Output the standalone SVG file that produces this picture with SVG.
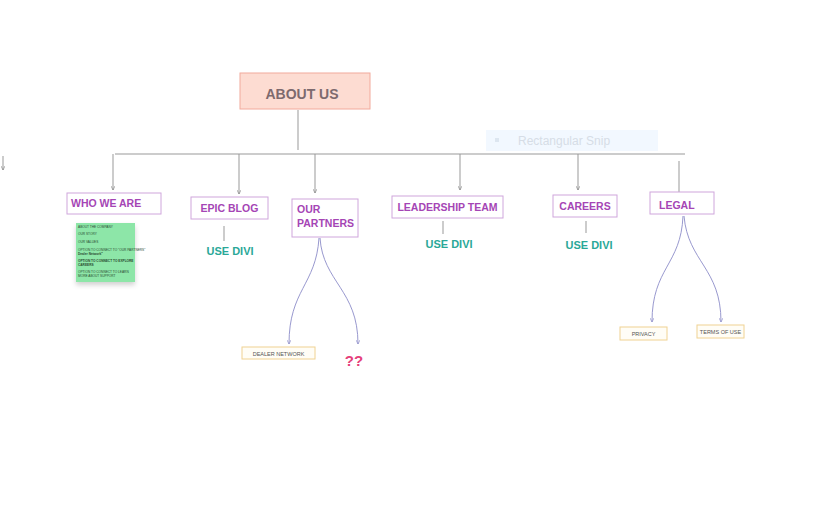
<svg xmlns="http://www.w3.org/2000/svg" width="816" height="511" viewBox="0 0 816 511">
<style>
.pbox{fill:#fff;stroke:#cfa6dc;stroke-width:1}
.ptxt{font-family:"Liberation Sans",Arial,sans-serif;font-weight:bold;font-size:10.5px;fill:#a545b5}
.divi{font-family:"Liberation Sans",Arial,sans-serif;font-weight:bold;font-size:11px;fill:#2aa898;text-anchor:middle}
.gl{stroke:#999;stroke-width:1;fill:none}
.bl{stroke:#8c8cc8;stroke-width:0.9;fill:none}
.ybox{fill:#fffdf6;stroke:#f0d292;stroke-width:1}
.ytxt{font-family:"Liberation Sans",Arial,sans-serif;font-size:5.5px;fill:#555;text-anchor:middle}
.stxt{font-family:"Liberation Sans",Arial,sans-serif;font-size:3.2px;fill:#2a4a30}
</style>
<defs>
<marker id="ga" viewBox="0 0 6 6" refX="6" refY="3" markerWidth="4" markerHeight="4" orient="auto" markerUnits="userSpaceOnUse"><path d="M0,0 L6,3 L0,6" fill="none" stroke="#888" stroke-width="1"/></marker>
<marker id="ba" viewBox="0 0 6 6" refX="6" refY="3" markerWidth="4" markerHeight="4" orient="auto" markerUnits="userSpaceOnUse"><path d="M0,0 L6,3 L0,6" fill="none" stroke="#8c8cc8" stroke-width="1"/></marker>
<filter id="sh" x="-20%" y="-20%" width="140%" height="150%"><feDropShadow dx="0" dy="3" stdDeviation="2.5" flood-color="#000" flood-opacity="0.18"/></filter>
</defs>
<rect width="816" height="511" fill="#fff"/>

<g id="snip">
<rect x="486" y="130" width="172" height="21" fill="#f2f8ff"/>
<rect x="495" y="138" width="4" height="4" fill="#dde6f0"/>
<text x="518" y="145" font-family="Liberation Sans,Arial,sans-serif" font-size="12" fill="#d6dde6">Rectangular Snip</text>
</g>

<g id="connectors">
<line class="gl" x1="298" y1="110" x2="298" y2="150"/>
<line class="gl" x1="115" y1="154" x2="685" y2="154"/>
<line class="gl" x1="113" y1="154" x2="113" y2="190" marker-end="url(#ga)"/>
<line class="gl" x1="239" y1="154" x2="239" y2="194" marker-end="url(#ga)"/>
<line class="gl" x1="315" y1="154" x2="315" y2="193" marker-end="url(#ga)"/>
<line class="gl" x1="460" y1="154" x2="460" y2="190" marker-end="url(#ga)"/>
<line class="gl" x1="578" y1="154" x2="578" y2="190" marker-end="url(#ga)"/>
<line class="gl" x1="679" y1="161" x2="679" y2="192"/>
<line class="gl" x1="3" y1="156" x2="3" y2="170" marker-end="url(#ga)"/>
<line class="gl" x1="224" y1="226" x2="224" y2="241"/>
<line class="gl" x1="443" y1="221" x2="443" y2="234"/>
<line class="gl" x1="586" y1="221" x2="586" y2="233"/>
<path class="bl" d="M319,238 C316,285 289,290 289,344" marker-end="url(#ba)"/>
<path class="bl" d="M320,238 C323,282 358,290 358,344" marker-end="url(#ba)"/>
<path class="bl" d="M683,216 C681,265 652,268 652,322" marker-end="url(#ba)"/>
<path class="bl" d="M684,216 C688,262 721,268 721,322" marker-end="url(#ba)"/>
</g>

<g id="about-us">
<rect x="240" y="73" width="130" height="36" fill="#fddcd2" stroke="#f2aa9c" stroke-width="1"/>
<text x="302" y="99" text-anchor="middle" font-family="Liberation Sans,Arial,sans-serif" font-weight="bold" font-size="14" fill="#7d6a6e">ABOUT US</text>
</g>

<g id="who-we-are">
<rect class="pbox" x="67" y="193" width="94" height="21"/>
<text class="ptxt" x="71" y="207">WHO WE ARE</text>
</g>

<g id="sticky">
<rect x="76" y="223" width="59" height="59" fill="#8de6a8" filter="url(#sh)"/>
<text class="stxt" x="78" y="228">ABOUT THE COMPANY</text>
<text class="stxt" x="78" y="235">OUR STORY</text>
<text class="stxt" x="78" y="243">OUR VALUES</text>
<text class="stxt" x="78" y="251">OPTION TO CONNECT TO "OUR PARTNERS"</text>
<text class="stxt" x="78" y="255" font-weight="bold">Dealer Network"</text>
<text class="stxt" x="78" y="262" font-weight="bold">OPTION TO CONNECT TO EXPLORE</text>
<text class="stxt" x="78" y="266" font-weight="bold">CAREERS</text>
<text class="stxt" x="78" y="273">OPTION TO CONNECT TO LEARN</text>
<text class="stxt" x="78" y="277">MORE ABOUT SUPPORT</text>
</g>

<g id="epic-blog">
<rect class="pbox" x="191" y="197" width="77" height="22"/>
<text class="ptxt" x="229.5" y="212" text-anchor="middle">EPIC BLOG</text>
</g>
<g id="epic-blog-divi"><text class="divi" x="230" y="255">USE DIVI</text></g>

<g id="our-partners">
<rect class="pbox" x="292" y="199" width="66" height="38"/>
<text class="ptxt" x="297" y="213">OUR</text>
<text class="ptxt" x="297" y="227">PARTNERS</text>
</g>

<g id="leadership-team">
<rect class="pbox" x="392" y="196" width="111" height="22"/>
<text class="ptxt" x="447.5" y="211" text-anchor="middle">LEADERSHIP TEAM</text>
</g>
<g id="leadership-divi"><text class="divi" x="449" y="248">USE DIVI</text></g>

<g id="careers">
<rect class="pbox" x="553" y="195" width="64" height="22"/>
<text class="ptxt" x="585" y="210" text-anchor="middle">CAREERS</text>
</g>
<g id="careers-divi"><text class="divi" x="589" y="249">USE DIVI</text></g>

<g id="legal">
<rect class="pbox" x="650" y="192" width="64" height="22"/>
<text class="ptxt" x="659" y="209">LEGAL</text>
</g>

<g id="dealer-network">
<rect class="ybox" x="242" y="347" width="73" height="12"/>
<text class="ytxt" x="278.5" y="355.5">DEALER NETWORK</text>
</g>
<g id="qq">
<text x="354" y="366" text-anchor="middle" font-family="Liberation Sans,Arial,sans-serif" font-weight="bold" font-size="15" fill="#e5407a">??</text>
</g>

<g id="privacy">
<rect class="ybox" x="620" y="327" width="47" height="13"/>
<text class="ytxt" x="643.5" y="336">PRIVACY</text>
</g>
<g id="terms">
<rect class="ybox" x="697" y="325" width="47" height="13"/>
<text class="ytxt" x="720.5" y="334">TERMS OF USE</text>
</g>
</svg>
